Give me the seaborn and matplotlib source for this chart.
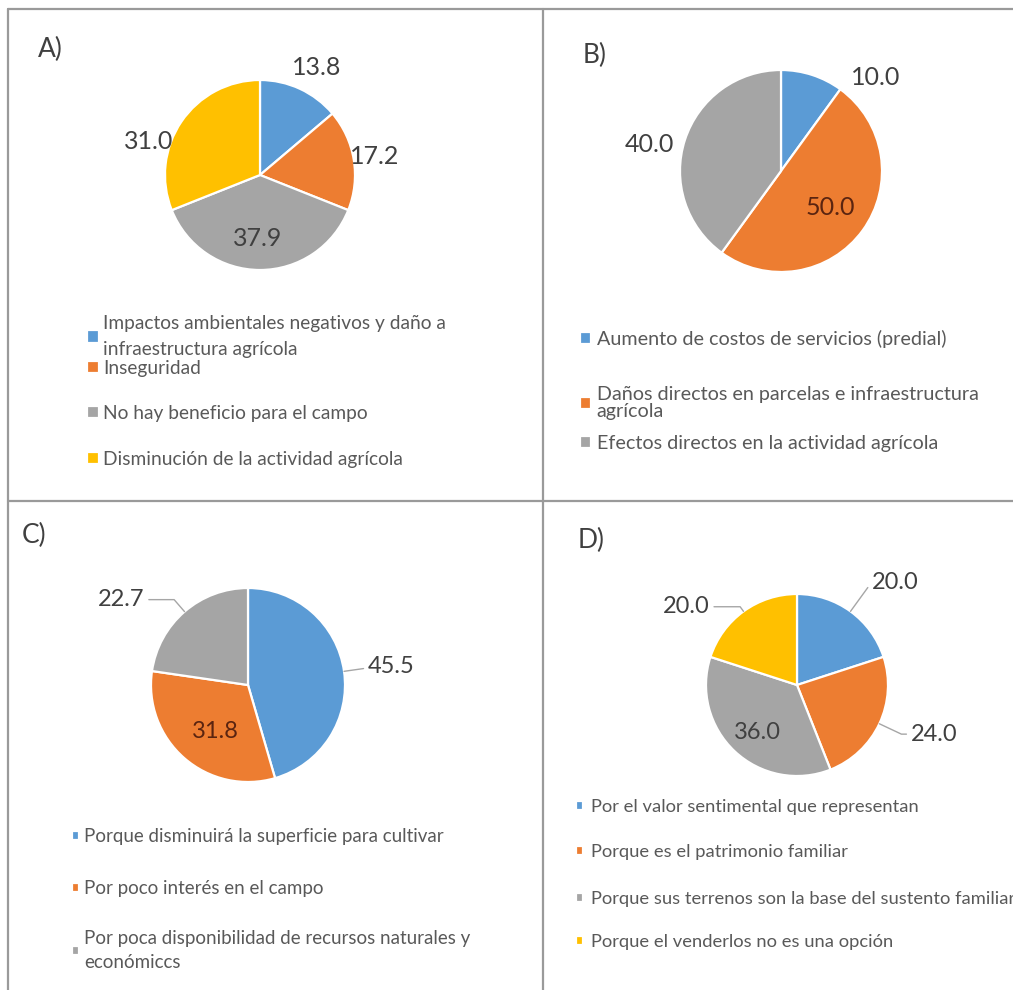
import numpy as np
import matplotlib
matplotlib.use("Agg")
import matplotlib.pyplot as plt
import seaborn as sns
from matplotlib.lines import Line2D

sns.set_theme(style="white")
plt.rcParams['font.family'] = ['Lato', 'DejaVu Sans']

# ---------------- data ----------------
a_categories = ["Impactos ambientales negativos y daño a\ninfraestructura agrícola",
                "Inseguridad",
                "No hay beneficio para el campo",
                "Disminución de la actividad agrícola"]
a_values = [13.8, 17.2, 37.9, 31.0]

b_categories = ["Aumento de costos de servicios (predial)",
                "Daños directos en parcelas e infraestructura\nagrícola",
                "Efectos directos en la actividad agrícola"]
b_values = [10.0, 50.0, 40.0]

c_categories = ["Porque disminuirá la superficie para cultivar",
                "Por poco interés en el campo",
                "Por poca disponibilidad de recursos naturales y\neconómiccs"]
c_values = [45.5, 31.8, 22.7]

d_categories = ["Por el valor sentimental que representan",
                "Porque es el patrimonio familiar",
                "Porque sus terrenos son la base del sustento familiar",
                "Porque el venderlos no es una opción"]
d_values = [20.0, 24.0, 36.0, 20.0]

panel_letters = ["A)", "B)", "C)", "D)"]

# ---------------- style / layout ----------------
COLORS = ["#5B9BD5", "#ED7D31", "#A5A5A5", "#FFC000"]
W, H = 1013, 990
K = 1.75
LBL = "#404040"
INNER_DARK = "#5a2410"
LEG = "#595959"

fig = plt.figure(figsize=(W / 100, H / 100), dpi=100)
fig.patch.set_facecolor("white")


def pie_axes(cx, cy, r):
    ax = fig.add_axes([(cx - K * r) / W, (H - cy - K * r) / H, 2 * K * r / W, 2 * K * r / H])
    return ax


def draw_panel(ax, values, label_pos, label_colors, leaders, fs):
    wedges, _ = ax.pie(values, colors=COLORS[:len(values)], startangle=90,
                       counterclock=False, radius=1.0,
                       wedgeprops=dict(edgecolor="white", linewidth=1.6))
    ax.set_xlim(-K, K)
    ax.set_ylim(-K, K)
    ax.set_aspect("equal")
    ax.axis("off")
    for i, (w, v) in enumerate(zip(wedges, values)):
        mid = np.deg2rad((w.theta1 + w.theta2) / 2)
        tx, ty = label_pos[i]
        txt = f"{v:.1f}"
        if leaders[i] is not None:
            side = leaders[i]
            ax.annotate(txt, xy=(np.cos(mid), np.sin(mid)), xytext=(tx, ty),
                        ha="center", va="center", fontsize=fs, color=label_colors[i],
                        annotation_clip=False,
                        arrowprops=dict(arrowstyle="-", color="#A6A6A6", lw=1.0,
                                        shrinkA=1, shrinkB=0,
                                        relpos=(side, 0.5),
                                        connectionstyle=f"angle,angleA=0,angleB={np.rad2deg(mid):.1f},rad=0"))
        else:
            ax.text(tx, ty, txt, ha="center", va="center", fontsize=fs,
                    color=label_colors[i], clip_on=False)
    return wedges


def entry_legend(handle, label, x_px, y_px, fs, hsize, pad, ls=1.2):
    fpx = fs * 100 / 72
    leg = fig.legend(handles=[handle], labels=[label], loc="upper left",
                     bbox_to_anchor=(x_px / W, 1 - (y_px - 0.62 * fpx) / H),
                     frameon=False, borderpad=0, borderaxespad=0,
                     handlelength=hsize, handleheight=hsize, handletextpad=pad,
                     fontsize=fs, labelcolor=LEG)
    for t in leg.get_texts():
        t.set_linespacing(ls)
    return leg


# ---------------- panel A ----------------
axA = pie_axes(260, 175, 95)
wA = draw_panel(axA, a_values,
                [(0.60, 1.13), (1.21, 0.20), (-0.02, -0.67), (-1.17, 0.35)],
                [LBL, LBL, LBL, LBL], [None, None, None, None], 18)
for w, lab, y in zip(wA, a_categories, [327, 372, 417, 463]):
    entry_legend(w, lab, 87, y, 13.8, 0.6, 0.25, ls=1.6)

# ---------------- panel B ----------------
axB = pie_axes(781, 171, 101)
wB = draw_panel(axB, b_values,
                [(0.94, 0.93), (0.49, -0.36), (-1.30, 0.26)],
                [LBL, INNER_DARK, LBL], [None, None, None], 18)
for w, lab, y in zip(wB, b_categories, [342, 398, 447]):
    entry_legend(w, lab, 580, y, 14.2, 0.55, 0.3, ls=1.0)

# ---------------- panel C ----------------
axC = pie_axes(248, 685, 97)
wC = draw_panel(axC, c_values,
                [(1.48, 0.19), (-0.34, -0.48), (-1.31, 0.88)],
                [LBL, INNER_DARK, LBL], [0.0, None, 1.0], 17)
for w, lab, y in zip(wC, c_categories, [840, 892, 942]):
    entry_legend(w, lab, 72, y, 13.5, 0.38, 0.28, ls=1.45)

# ---------------- panel D ----------------
axD = pie_axes(797, 685, 91)
wD = draw_panel(axD, d_values,
                [(1.08, 1.13), (1.51, -0.54), (-0.44, -0.52), (-1.22, 0.86)],
                [LBL, LBL, LBL, LBL], [0.0, 0.0, None, 1.0], 17)
for w, lab, y in zip(wD, d_categories, [810, 855, 902, 945]):
    entry_legend(w, lab, 576, y, 13.2, 0.38, 0.45)

# ---------------- panel letters ----------------
for lt, (x, y) in zip(panel_letters, [(50, 49), (595, 55), (34, 535), (591, 540)]):
    fig.text(x / W, 1 - y / H, lt, ha="center", va="center", fontsize=19, color=LBL)

# ---------------- grid frame lines ----------------
gc, glw = "#9a9a9a", 1.6
fig.add_artist(Line2D([8 / W, 1.0], [1 - 9 / H, 1 - 9 / H], color=gc, lw=glw, transform=fig.transFigure))
fig.add_artist(Line2D([8 / W, 8 / W], [1 - 9 / H, 0.0], color=gc, lw=glw, transform=fig.transFigure))
fig.add_artist(Line2D([543 / W, 543 / W], [1 - 9 / H, 0.0], color=gc, lw=glw, transform=fig.transFigure))
fig.add_artist(Line2D([8 / W, 1.0], [1 - 501 / H, 1 - 501 / H], color=gc, lw=glw, transform=fig.transFigure))

fig.savefig("out.png", dpi=100, facecolor="white")
